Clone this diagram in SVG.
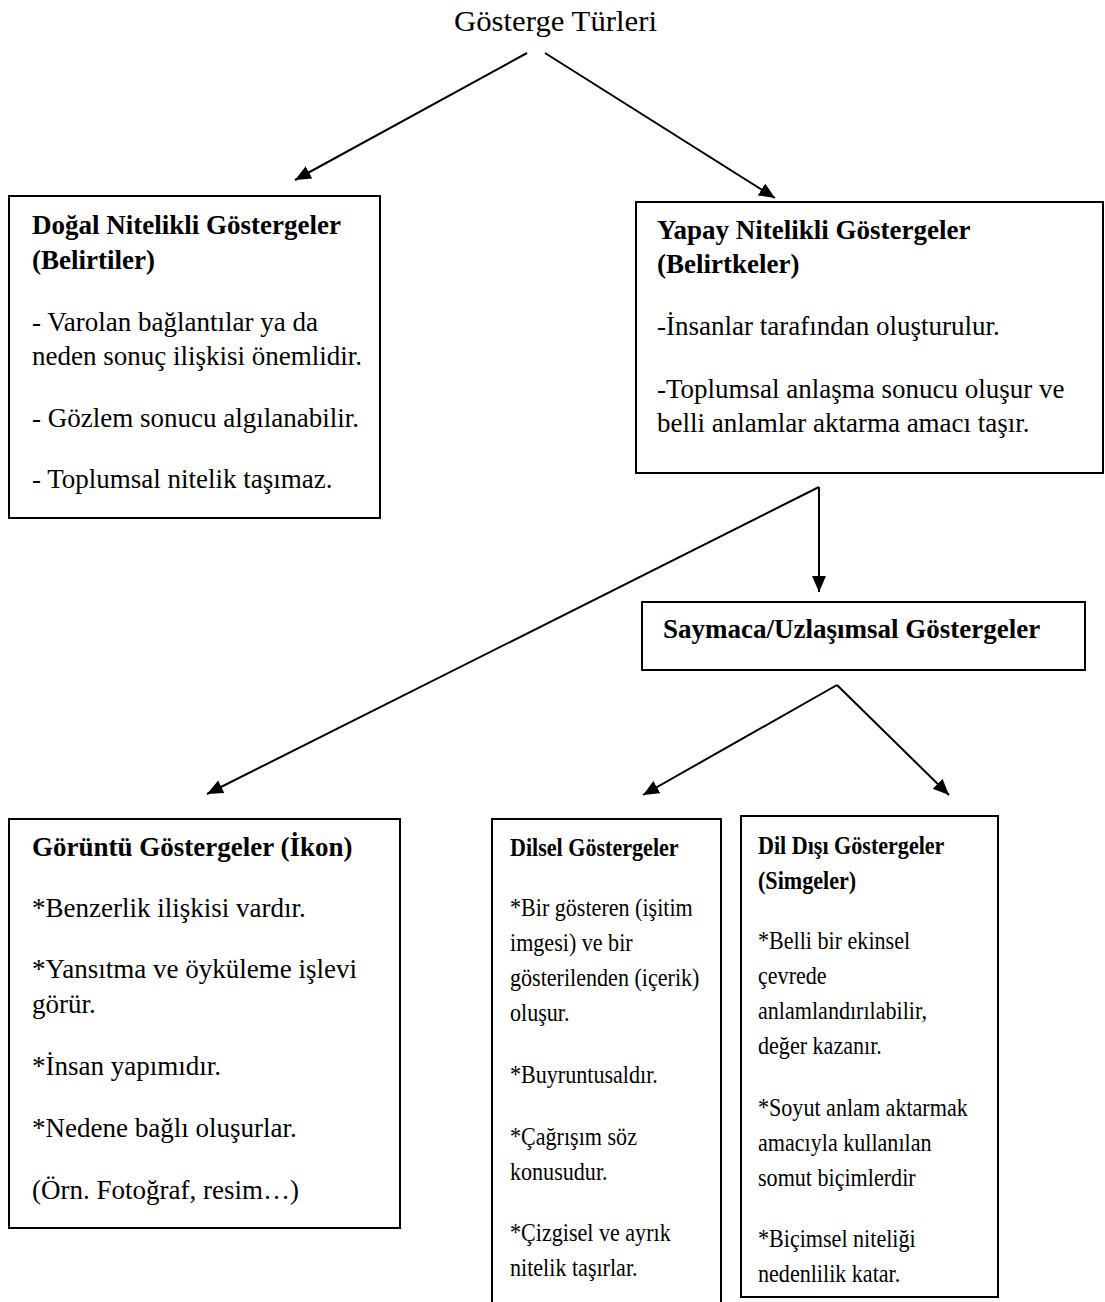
<svg xmlns="http://www.w3.org/2000/svg" width="1105" height="1302" viewBox="0 0 1105 1302">
<style>
text{font-family:"Liberation Serif","Times New Roman",serif;fill:#000}
.t{font-size:27px}
.b{font-size:27px;font-weight:bold}
.s{font-size:26px}
.sb{font-size:26px;font-weight:bold}
.box{fill:#fff;stroke:#000;stroke-width:2}
.c{stroke:#000;stroke-width:2;fill:none;marker-end:url(#ah)}
</style>
<defs>
<marker id="ah" markerUnits="userSpaceOnUse" markerWidth="17" markerHeight="15" refX="16" refY="7" orient="auto">
<path d="M0,0 L16,7 L0,14 z" fill="#000"/>
</marker>
</defs>
<rect width="1105" height="1302" fill="#fff"/>
<g id="title">
<text x="454" y="31" font-size="29" textLength="203" lengthAdjust="spacingAndGlyphs">Gösterge Türleri</text>
</g>
<g id="connectors">
<line class="c" x1="527" y1="53" x2="295" y2="180"/>
<line class="c" x1="545" y1="53" x2="775" y2="198"/>
<line class="c" x1="819" y1="487" x2="819" y2="592"/>
<line class="c" x1="819" y1="487" x2="207" y2="794"/>
<line class="c" x1="837" y1="685" x2="643" y2="795"/>
<line class="c" x1="837" y1="685" x2="949" y2="795"/>
</g>
<g id="dogal">
<rect class="box" x="9" y="196" width="371" height="322"/>
<text class="b" x="32" y="234">Doğal Nitelikli Göstergeler</text>
<text class="b" x="32" y="269">(Belirtiler)</text>
<text class="t" x="32" y="331">- Varolan bağlantılar ya da</text>
<text class="t" x="32" y="365">neden sonuç ilişkisi önemlidir.</text>
<text class="t" x="32" y="427">- Gözlem sonucu algılanabilir.</text>
<text class="t" x="32" y="488">- Toplumsal nitelik taşımaz.</text>
</g>
<g id="yapay">
<rect class="box" x="636" y="202" width="467" height="271"/>
<text class="b" x="657" y="239">Yapay Nitelikli Göstergeler</text>
<text class="b" x="657" y="273">(Belirtkeler)</text>
<text class="t" x="657" y="335">-İnsanlar tarafından oluşturulur.</text>
<text class="t" x="657" y="398">-Toplumsal anlaşma sonucu oluşur ve</text>
<text class="t" x="657" y="432">belli anlamlar aktarma amacı taşır.</text>
</g>
<g id="saymaca">
<rect class="box" x="642" y="602" width="443" height="68"/>
<text class="b" x="663" y="638">Saymaca/Uzlaşımsal Göstergeler</text>
</g>
<g id="goruntu">
<rect class="box" x="9" y="819" width="391" height="409"/>
<text class="b" x="32" y="856">Görüntü Göstergeler (İkon)</text>
<text class="t" x="32" y="917">*Benzerlik ilişkisi vardır.</text>
<text class="t" x="32" y="978">*Yansıtma ve öyküleme işlevi</text>
<text class="t" x="32" y="1013">görür.</text>
<text class="t" x="32" y="1075">*İnsan yapımıdır.</text>
<text class="t" x="32" y="1137">*Nedene bağlı oluşurlar.</text>
<text class="t" x="32" y="1199">(Örn. Fotoğraf, resim…)</text>
</g>
<g id="dilsel">
<rect class="box" x="492" y="819" width="229" height="500"/>
<g transform="translate(510,0) scale(0.85,1)">
<text class="sb" x="0" y="856">Dilsel Göstergeler</text>
<text class="s" x="0" y="916">*Bir gösteren (işitim</text>
<text class="s" x="0" y="951">imgesi) ve bir</text>
<text class="s" x="0" y="986">gösterilenden (içerik)</text>
<text class="s" x="0" y="1021">oluşur.</text>
<text class="s" x="0" y="1083">*Buyruntusaldır.</text>
<text class="s" x="0" y="1145">*Çağrışım söz</text>
<text class="s" x="0" y="1180">konusudur.</text>
<text class="s" x="0" y="1241">*Çizgisel ve ayrık</text>
<text class="s" x="0" y="1276">nitelik taşırlar.</text>
</g>
</g>
<g id="dildisi">
<rect class="box" x="741" y="816" width="257" height="481"/>
<g transform="translate(758,0) scale(0.85,1)">
<text class="sb" x="0" y="854">Dil Dışı Göstergeler</text>
<text class="sb" x="0" y="889">(Simgeler)</text>
<text class="s" x="0" y="949">*Belli bir ekinsel</text>
<text class="s" x="0" y="984">çevrede</text>
<text class="s" x="0" y="1019">anlamlandırılabilir,</text>
<text class="s" x="0" y="1054">değer kazanır.</text>
<text class="s" x="0" y="1116">*Soyut anlam aktarmak</text>
<text class="s" x="0" y="1151">amacıyla kullanılan</text>
<text class="s" x="0" y="1186">somut biçimlerdir</text>
<text class="s" x="0" y="1247">*Biçimsel niteliği</text>
<text class="s" x="0" y="1282">nedenlilik katar.</text>
</g>
</g>
</svg>
